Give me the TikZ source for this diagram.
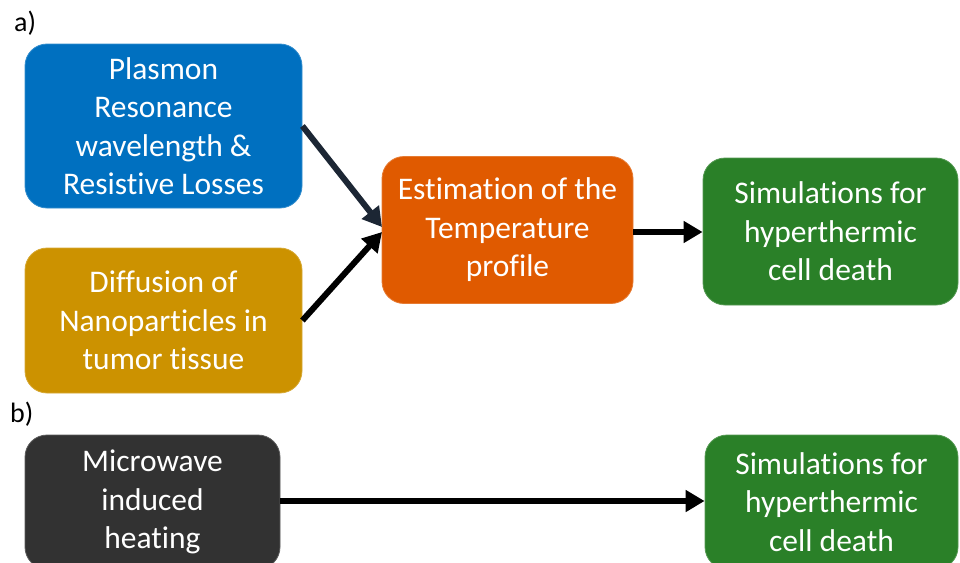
\documentclass[tikz,border=0pt]{standalone}
\usepackage{fontspec}
\setmainfont{Carlito}[Ligatures=NoCommon]
\usetikzlibrary{arrows.meta}
\definecolor{cblue}{RGB}{0,112,192}
\definecolor{cgold}{RGB}{204,146,0}
\definecolor{corange}{RGB}{224,90,0}
\definecolor{cgreen}{RGB}{42,128,40}
\definecolor{cdark}{RGB}{50,50,50}
\definecolor{cnavy}{RGB}{28,38,52}
\tikzset{
  box/.style={rounded corners=22pt, inner sep=0pt, align=center, text=white,
    font=\fontsize{31.5}{38.5}\selectfont, draw=#1!80!white, line width=0.8pt, fill=#1},
  panel/.style={font=\fontsize{28}{32}\selectfont, anchor=west, inner sep=0pt},
  arr/.style={line width=6pt, -{Triangle[length=19pt,width=21pt]}}
}
\begin{document}
\begin{tikzpicture}[x=1pt,y=-1pt]
\useasboundingbox (0,0) rectangle (960,562);
\clip (0,0) rectangle (960,562);
\node[panel] (la) at (14,23) {a)};
\node[panel] (lb) at (10,414) {b)};
\node[box=cblue, minimum width=277pt, minimum height=164pt] (plas) at (163.5,126) {Plasmon\\Resonance\\wavelength \&\\Resistive Losses};
\node[box=cgold, minimum width=277pt, minimum height=145pt] (diff) at (163.5,320.5) {Diffusion of\\Nanoparticles in\\tumor tissue};
\node[box=corange, minimum width=251pt, minimum height=147pt] (est) at (507.5,230) {Estimation of the\\Temperature\\profile};
\node[box=cgreen, minimum width=255pt, minimum height=147pt] (sim1) at (830.5,231.5) {Simulations for\\hyperthermic\\cell death};
\node[box=cdark, minimum width=255pt, minimum height=134pt] (micro) at (152.5,502) {Microwave\\induced\\heating};
\node[box=cgreen, minimum width=253pt, minimum height=134pt] (sim2) at (831.5,502) {Simulations for\\hyperthermic\\cell death};
\coordinate (t1) at (382,227);
\coordinate (t2) at (382,232);
\draw[arr, cnavy] (plas.east) -- (t1);
\draw[arr, black] (diff.east) -- (t2);
\draw[arr, black] (est.east |- 0,232) -- (sim1.west |- 0,232);
\draw[arr, black] (micro.east |- 0,501) -- (sim2.west |- 0,501);
\end{tikzpicture}
\end{document}
